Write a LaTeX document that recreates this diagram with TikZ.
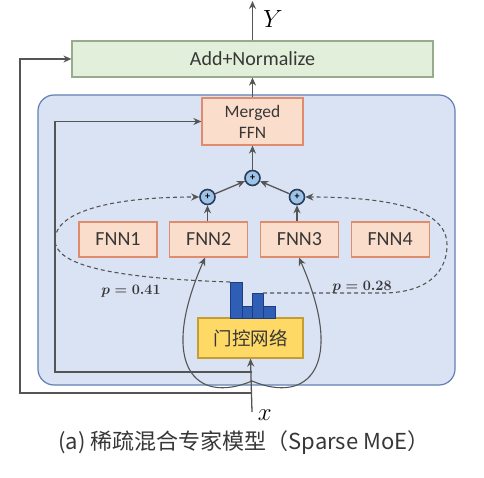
\documentclass[tikz,border=0pt]{standalone}
\usepackage{fontspec}
\setmainfont{Carlito}
\newfontfamily\cjk{Noto Sans CJK SC}
\usetikzlibrary{positioning,arrows.meta}

\definecolor{moefill}{RGB}{218,227,243}
\definecolor{moedraw}{RGB}{100,128,178}
\definecolor{normfill}{RGB}{226,239,218}
\definecolor{normdraw}{RGB}{150,172,140}
\definecolor{ffnfill}{RGB}{251,221,203}
\definecolor{ffndraw}{RGB}{224,140,108}
\definecolor{gatefill}{RGB}{255,217,102}
\definecolor{gatedraw}{RGB}{196,158,52}
\definecolor{plusfill}{RGB}{157,195,230}
\definecolor{plusdraw}{RGB}{40,60,92}
\definecolor{barblue}{RGB}{46,95,181}
\definecolor{bardraw}{RGB}{30,60,130}
\definecolor{linegray}{RGB}{85,85,85}
\definecolor{textgray}{RGB}{55,55,55}

\begin{document}
\begin{tikzpicture}[x=1pt, y=-1pt, align=center,
    line width=1.3pt, draw=linegray,
    >={Stealth[length=8pt,width=7pt]},
    ffnbox/.style={draw=ffndraw, fill=ffnfill, line width=1.2pt, text=textgray,
        minimum width=78pt, minimum height=35pt, inner sep=0pt,
        font=\fontsize{20}{22}\selectfont},
    plusnode/.style={circle, draw=plusdraw, fill=plusfill, line width=1.6pt,
        minimum size=15pt, inner sep=0pt,
        font=\fontsize{10}{10}\selectfont\bfseries},
    gatedash/.style={dash pattern=on 4pt off 3pt, line width=1.1pt}]

    \useasboundingbox (0,0) rectangle (484,478);

    % expert layer background
    \draw[moedraw, fill=moefill, line width=1.2pt, rounded corners=16pt] (38,95) rectangle (455,385);

    \node [draw=normdraw, fill=normfill, line width=1.2pt, text=textgray,
        minimum width=361pt, minimum height=36pt, font=\fontsize{20}{22}\selectfont] (addnorm) at (252.5,59) {Add+Normalize};

    \node [draw=ffndraw, fill=ffnfill, line width=1.2pt, text=textgray,
        minimum width=101pt, minimum height=47pt, inner sep=0pt,
        font=\fontsize{17.5}{21}\selectfont] (merged) at (252.5,121.5) {Merged\\FFN};

    \node [ffnbox] (fnn1) at (118,239.5) {FNN1};
    \node [ffnbox, right=11.5pt of fnn1] (fnn2) {FNN2};
    \node [ffnbox, right=11.5pt of fnn2] (fnn3) {FNN3};
    \node [ffnbox, right=11.5pt of fnn3] (fnn4) {FNN4};

    \node [plusnode] (plustop) at (252.5,178) {+};
    \node [plusnode] (plusleft) at (207.5,197) {+};
    \node [plusnode] (plusright) at (297,197) {+};

    \node [draw=gatedraw, fill=gatefill, line width=1.2pt, text=textgray,
        minimum width=105pt, minimum height=40pt, inner sep=0pt,
        font=\cjk\fontsize{18.5}{20}\selectfont] (gate) at (250.5,338) {门控网络};

    % gate output histogram
    \foreach \xa/\xb/\ytop in {230/242/282, 242/252/306, 252/263/293, 263/275/306}
        \draw[bardraw, fill=barblue, line width=0.8pt] (\xa,318) rectangle (\xb,\ytop);
    \coordinate (bar1top) at (230,282);
    \coordinate (bar3top) at (263,293);

    % input and output
    \coordinate (xin) at (252,412);
    \coordinate (yout) at (252.5,1);
    \coordinate (split) at (252,381);
    \coordinate (res1) at (252,393);
    \coordinate (res2) at (252,372);
    \coordinate (resout) at (20,393);
    \coordinate (resin) at (55,372);

    \draw[->] (xin) -- (gate.south);
    \node [right=2pt of xin, yshift=-3pt, font=\fontsize{28}{28}\selectfont] (xlabel) {$x$};
    \draw[->] (addnorm.north) -- (yout);
    \node [font=\fontsize{28}{28}\selectfont] (ylabel) at (273,19) {$Y$};

    \draw[->] (res1) -- (resout) |- (addnorm.west);
    \draw[->] (res2) -- (resin) |- (merged.west);

    % routing to the selected experts
    \draw[->, line width=1.1pt] (split) .. controls (195,405) and (158,365) .. (fnn2.south -| 205,0);
    \draw[->, line width=1.1pt] (split) .. controls (309,405) and (346,365) .. (fnn3.south -| 299,0);

    % gate weights
    \draw[->, gatedash] (bar1top) .. controls (110,278) and (55,265) .. (55,240)
        .. controls (55,212) and (110,197) .. (plusleft.west);
    \draw[->, gatedash] (bar3top) -- (385,293) .. controls (430,292) and (447,270) .. (447,245)
        .. controls (447,212) and (400,197) .. (plusright.east);
    \node [font=\fontsize{14}{14}\selectfont\boldmath, text=textgray] (pleft) at (131,291) {$p=0.41$};
    \node [font=\fontsize{14}{14}\selectfont\boldmath, text=textgray] (pright) at (362,287) {$p=0.28$};

    % combining
    \draw[->] (fnn2.north -| plusleft) -- (plusleft);
    \draw[->] (fnn3.north -| plusright) -- (plusright);
    \draw[->] (plusleft) -- (plustop);
    \draw[->] (plusright) -- (plustop);
    \draw[->] (plustop) -- (merged);
    \draw[->] (merged) -- (addnorm);

    \node [text=textgray, font=\cjk\fontsize{22}{24}\selectfont] (caption) at (244,443) {(a)~稀疏混合专家模型（Sparse MoE）};

\end{tikzpicture}
\end{document}
